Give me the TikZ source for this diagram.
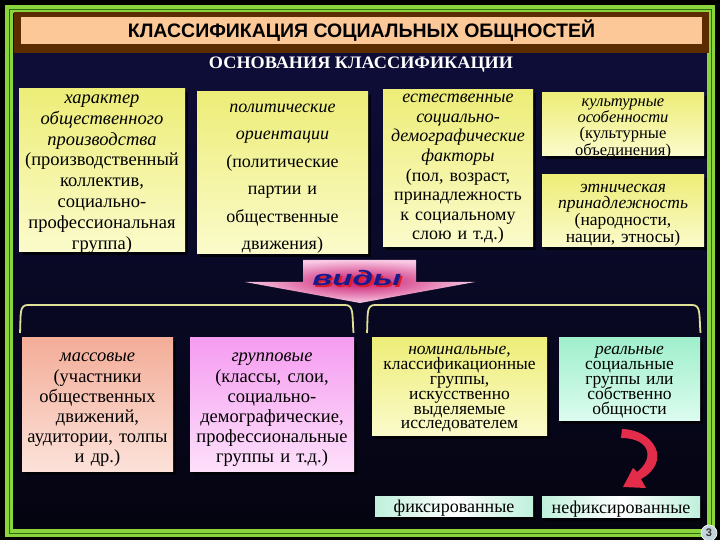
\documentclass[tikz,border=0pt]{standalone}
\usepackage{fontspec}
\setmainfont{Liberation Serif}
\setsansfont{Liberation Sans}
\usetikzlibrary{shadows}
\definecolor{frameg}{HTML}{8AD43C}
\definecolor{framed}{HTML}{2F6A10}
\definecolor{bgtop}{HTML}{0E0E3C}
\definecolor{bgmid}{HTML}{03036A}
\definecolor{bgbot}{HTML}{040410}
\definecolor{titlebrown}{HTML}{5A2C00}
\definecolor{peach}{HTML}{FCC898}
\definecolor{yelA}{HTML}{EDED78}
\definecolor{yelB}{HTML}{FBFBCC}
\definecolor{salA}{HTML}{F3AD98}
\definecolor{salB}{HTML}{FCE2DA}
\definecolor{magA}{HTML}{F59CF0}
\definecolor{magB}{HTML}{FDE0FB}
\definecolor{mintA}{HTML}{A0EFCC}
\definecolor{mintB}{HTML}{DCFCEF}
\definecolor{fixA}{HTML}{BFF0DC}
\definecolor{arrIn}{HTML}{C8146A}
\definecolor{arrOut}{HTML}{F8C8E4}
\definecolor{brk}{HTML}{E0E096}
\definecolor{redarr}{HTML}{E22C4A}
\definecolor{vidblue}{HTML}{1A1A8C}
\definecolor{vidred}{HTML}{E01C28}
\definecolor{pgcirc}{HTML}{C4D4DC}
\newcommand{\fsz}[2]{\fontsize{#1}{#2}\selectfont\lineskiplimit=-100pt\relax}
\begin{document}
\begin{tikzpicture}[x=1pt,y=1pt,
  card/.style={inner sep=0pt,
    drop shadow={shadow xshift=3pt,shadow yshift=-3pt,opacity=0.7,fill=black}},
  yelcard/.style={card, top color=yelA, bottom color=yelB},
  boxtext/.style={inner sep=0pt, align=center, text=black},
]
\useasboundingbox (0,0) rectangle (720,540);
\fill[black] (0,0) rectangle (720,540);
\shade[top color=bgtop, middle color=bgmid, bottom color=bgbot] (13,9) rectangle (707,527);
% frame
\draw[frameg, line width=8pt] (9,6.5) rectangle (711,531);
\draw[framed, line width=0.9pt] (9,6.5) rectangle (711,531);
% title
\fill[titlebrown] (14,487) rectangle (709,528);
\node[fill=peach, inner sep=0pt, minimum width=681, minimum height=27,
  font=\sffamily\bfseries\fsz{19.5}{20}] (title) at (361.5,509.5)
  {КЛАССИФИКАЦИЯ СОЦИАЛЬНЫХ ОБЩНОСТЕЙ};
\node[text=white, font=\bfseries\fsz{17.5}{18}] (osn) at (361,475)
  {\scalebox{1.04}[1]{ОСНОВАНИЯ КЛАССИФИКАЦИИ}};
% top row boxes
\node[yelcard, minimum width=166, minimum height=163] (b1) at (102,369.5) {};
\node[yelcard, minimum width=171, minimum height=162] (b2) at (282.5,367) {};
\node[yelcard, minimum width=150, minimum height=157] (b3) at (458,371.5) {};
\node[yelcard, minimum width=162, minimum height=63] (b4) at (623,415.5) {};
\node[yelcard, minimum width=162, minimum height=72] (b5) at (623,329) {};
\node[boxtext, font=\fsz{18.5}{20.8}, text width=166] (b1t) at ([yshift=-3.5]b1.center)
  {\textit{характер\\общественного\\производства}\\(производственный\\коллектив,\\социально-\\профессиональная\\группа)};
\node[boxtext, font=\fsz{18}{27.5}, text width=171] (b2t) at ([yshift=-5.5]b2.center)
  {\textit{политические\\ориентации}\\(политические\\партии и\\общественные\\движения)};
\node[boxtext, font=\fsz{18}{19.6}, text width=150] (b3t) at ([yshift=-0.5]b3.center)
  {\textit{естественные\\социально-\\демографические\\факторы}\\(пол, возраст,\\принадлежность\\к социальному\\слою и т.д.)};
\node[boxtext, font=\fsz{16.5}{16.3}, text width=162] (b4t) at ([yshift=-4]b4.center)
  {\textit{культурные\\особенности}\\(культурные\\объединения)};
\node[boxtext, font=\fsz{17.5}{16.7}, text width=162] (b5t) at ([yshift=-4]b5.center)
  {\textit{этническая\\принадлежность}\\(народности,\\нации, этносы)};
% arrow "виды"
\shade[inner color=arrIn, outer color=arrOut, shading=radial]
  (303,280) -- (416,280) -- (416,258) -- (475,258) -- (360,237) -- (245,258) -- (303,258) -- cycle;
\node[text=vidred, font=\sffamily\bfseries\itshape\fsz{21}{21}] (vidysh)
  at (359,260) {\scalebox{1.58}[1]{виды}};
\node[text=vidblue, font=\sffamily\bfseries\itshape\fsz{21}{21}] (vidy)
  at (357,262) {\scalebox{1.58}[1]{виды}};
% brackets
\draw[brk, line width=1.8pt] (20,207) .. controls (21,226) and (19,235) .. (28,235)
  -- (345,235) .. controls (354,235) and (352,226) .. (353.5,207);
\draw[brk, line width=1.8pt] (367,207) .. controls (368,226) and (366,235) .. (375,235)
  -- (692,235) .. controls (701,235) and (699,226) .. (700.5,207);
% bottom row boxes
\node[card, top color=salA, bottom color=salB, minimum width=151, minimum height=134] (m) at (97.5,135) {};
\node[card, top color=magA, bottom color=magB, minimum width=164, minimum height=134] (g) at (272,135) {};
\node[yelcard, minimum width=175, minimum height=98] (n) at (459.5,153) {};
\node[card, top color=mintA, bottom color=mintB, minimum width=141, minimum height=83] (r) at (629.5,160.5) {};
\node[card, left color=fixA, right color=fixA, middle color=white, minimum width=158, minimum height=20] (f1) at (454,33) {};
\node[card, left color=fixA, right color=fixA, middle color=white, minimum width=158, minimum height=21] (f2) at (621,32.5) {};
\node[boxtext, font=\fsz{18.5}{20.2}, text width=151] (mt) at ([yshift=-5]m.center)
  {\textit{массовые}\\(участники\\общественных\\движений,\\аудитории, толпы\\и др.)};
\node[boxtext, font=\fsz{18.5}{20.2}, text width=164] (gt) at ([yshift=-5]g.center)
  {\textit{групповые}\\(классы, слои,\\социально-\\демографические,\\профессиональные\\группы и т.д.)};
\node[boxtext, font=\fsz{17.5}{14.8}, text width=175] (nt) at ([yshift=-2.5]n.center)
  {\textit{номинальные,}\\классификационные\\группы,\\искусственно\\выделяемые\\исследователем};
\node[boxtext, font=\fsz{17.5}{15}, text width=141] (rt) at ([yshift=-3]r.center)
  {\textit{реальные}\\социальные\\группы или\\собственно\\общности};
\node[boxtext, font=\fsz{18}{18}] (f1t) at ([yshift=-1.5]f1.center) {фиксированные};
\node[boxtext, font=\fsz{18}{18}] (f2t) at ([yshift=-1.5]f2.center) {нефиксированные};
% red curved arrow
\fill[redarr] (622,111) .. controls (655,110) and (672,78) .. (641,61) -- (646,52) -- (623,53)
  -- (633,72) -- (637,68) .. controls (655,82) and (650,102) .. (621,102) -- cycle;
% page number
\node[circle, fill=pgcirc, draw=white, line width=0.6pt, minimum size=16, inner sep=0pt,
  text=black!80, font=\sffamily\bfseries\fsz{11}{11}] (pg) at (709,7) {3};
\end{tikzpicture}
\end{document}
